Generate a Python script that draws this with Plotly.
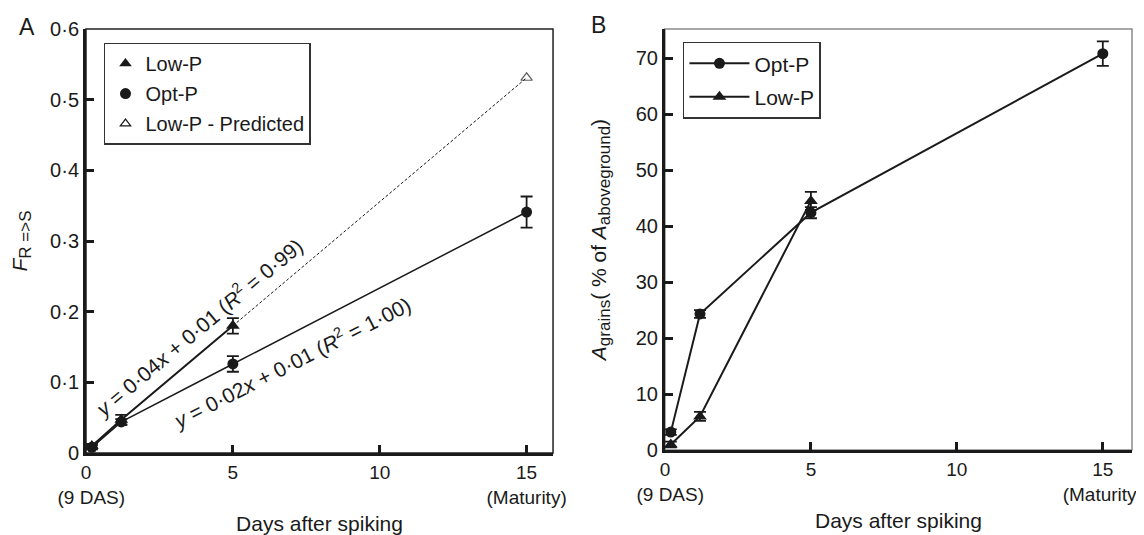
import plotly.graph_objects as go

# ---------------- data ----------------
days_opt = [0.2, 1.2, 5, 15]
days_low = [0.2, 1.2, 5]
days_pred = [5, 15]

# Panel A : F R=>S
A_opt = [0.008, 0.044, 0.126, 0.341]
A_opt_err = [0.003, 0.004, 0.011, 0.022]
A_low = [0.010, 0.047, 0.180]
A_low_err = [0.003, 0.007, 0.011]
A_pred = [0.180, 0.531]

# Panel B : A grains (% of A aboveground)
B_opt = [3.2, 24.3, 42.4, 70.8]
B_opt_err = [0.5, 0.7, 1.0, 2.2]
B_low = [1.0, 6.0, 44.5]
B_low_err = [0.5, 0.8, 1.6]

x_tickvals = [0, 5, 10, 15]
x_ticktext = ["0<br>\u00a0\u00a0(9 DAS)", "5", "10", "15<br>(Maturity)"]
A_tickvals = [0, 0.1, 0.2, 0.3, 0.4, 0.5, 0.6]
A_ticktext = ["0", "0·1", "0·2", "0·3", "0·4", "0·5", "0·6"]
B_tickvals = [0, 10, 20, 30, 40, 50, 60, 70]

FONT = "Liberation Sans, Arial, Helvetica, sans-serif"
BLACK = "#1a1a1a"

fig = go.Figure()

# ---- Panel A traces ----
fig.add_trace(go.Scatter(
    x=days_pred, y=A_pred, mode="lines+markers", xaxis="x", yaxis="y",
    line=dict(color=BLACK, width=1, dash="3px,2px"),
    marker=dict(symbol="triangle-up-open", size=[0, 10], color=BLACK, line=dict(width=1.2, color=BLACK)),
    showlegend=False, hoverinfo="skip"))
fig.add_trace(go.Scatter(
    x=days_opt, y=A_opt, mode="lines+markers", xaxis="x", yaxis="y",
    line=dict(color=BLACK, width=1.5),
    marker=dict(symbol="circle", size=11, color=BLACK),
    error_y=dict(type="data", array=A_opt_err, color=BLACK, thickness=1.8, width=6),
    showlegend=False))
fig.add_trace(go.Scatter(
    x=days_low, y=A_low, mode="lines+markers", xaxis="x", yaxis="y",
    line=dict(color=BLACK, width=2),
    marker=dict(symbol="triangle-up", size=12, color=BLACK),
    error_y=dict(type="data", array=A_low_err, color=BLACK, thickness=1.8, width=6),
    showlegend=False))
# legend entries for panel A (markers only)
fig.add_trace(go.Scatter(x=[None], y=[None], mode="markers", xaxis="x", yaxis="y",
                         name="Low-P", legend="legend", legendgroup="a1",
                         marker=dict(symbol="triangle-up", size=11, color=BLACK)))
fig.add_trace(go.Scatter(x=[None], y=[None], mode="markers", xaxis="x", yaxis="y",
                         name="Opt-P", legend="legend", legendgroup="a2",
                         marker=dict(symbol="circle", size=11, color=BLACK)))
fig.add_trace(go.Scatter(x=[None], y=[None], mode="markers", xaxis="x", yaxis="y",
                         name="Low-P - Predicted", legend="legend", legendgroup="a3",
                         marker=dict(symbol="triangle-up-open", size=9, color=BLACK,
                                     line=dict(width=1.2, color=BLACK))))

# ---- Panel B traces ----
fig.add_trace(go.Scatter(
    x=days_opt, y=B_opt, mode="lines+markers", xaxis="x2", yaxis="y2",
    name="Opt-P", legend="legend2", legendgroup="b1",
    line=dict(color=BLACK, width=2),
    marker=dict(symbol="circle", size=11, color=BLACK),
    error_y=dict(type="data", array=B_opt_err, color=BLACK, thickness=1.8, width=6)))
fig.add_trace(go.Scatter(
    x=days_low, y=B_low, mode="lines+markers", xaxis="x2", yaxis="y2",
    name="Low-P", legend="legend2", legendgroup="b2",
    line=dict(color=BLACK, width=2),
    marker=dict(symbol="triangle-up", size=12, color=BLACK),
    error_y=dict(type="data", array=B_low_err, color=BLACK, thickness=1.8, width=6)))

axis_common = dict(
    showgrid=False, zeroline=False, showline=True, linewidth=3, linecolor=BLACK,
    ticks="inside", ticklen=8, tickwidth=2.5, tickcolor=BLACK,
    automargin=False, ticklabeloverflow="allow",
)
ytickfont = dict(family=FONT, size=20, color=BLACK)
xtickfont = dict(family=FONT, size=19, color=BLACK)

SUB = "<sub><span style='font-size:17px'>{}</span></sub>"

fig.update_layout(
    width=1136, height=527,
    margin=dict(l=78, r=12, t=21, b=82),
    paper_bgcolor="white", plot_bgcolor="white",
    font=dict(family=FONT, size=21, color=BLACK),
    xaxis=dict(domain=[0, 0.4465], range=[0, 15.9], tickvals=x_tickvals, ticktext=x_ticktext,
               tickfont=xtickfont,
               title=dict(text="Days after spiking", font=dict(size=21), standoff=10),
               anchor="y", **axis_common),
    yaxis=dict(domain=[0, 1], range=[0, 0.6], tickvals=A_tickvals, ticktext=A_ticktext,
               tickfont=ytickfont,
               title=dict(text="<i>F</i>" + SUB.format("R =>S"), font=dict(size=21), standoff=20),
               anchor="x", **axis_common),
    xaxis2=dict(domain=[0.5535, 1.0], range=[0, 16], tickvals=x_tickvals, ticktext=x_ticktext,
                tickfont=xtickfont,
                title=dict(text="Days after spiking", font=dict(size=21), standoff=10),
                anchor="y2", **axis_common),
    yaxis2=dict(domain=[0.007, 1], range=[0, 75.2], tickvals=B_tickvals,
                tickfont=ytickfont,
                title=dict(text="<i>A</i>" + SUB.format("grains") + "( % of <i>A</i>"
                                + SUB.format("aboveground") + ")",
                           font=dict(size=21), standoff=24),
                anchor="x2", **axis_common),
    legend=dict(x=0.0172, y=0.968, xanchor="left", yanchor="top",
                bordercolor="#333333", borderwidth=1.5, bgcolor="white",
                font=dict(family=FONT, size=20, color=BLACK),
                traceorder="grouped", tracegroupgap=1, itemwidth=30),
    legend2=dict(x=0.5707, y=0.970, xanchor="left", yanchor="top",
                 bordercolor="#333333", borderwidth=1.5, bgcolor="white",
                 font=dict(family=FONT, size=21, color=BLACK),
                 traceorder="grouped", tracegroupgap=3, itemwidth=60),
    shapes=[
        dict(type="rect", xref="x domain", yref="y domain", x0=0, x1=1, y0=0, y1=1,
             line=dict(color="#222222", width=1.5), layer="below"),
        dict(type="rect", xref="x2 domain", yref="y2 domain", x0=0, x1=1, y0=0, y1=1,
             line=dict(color="#8a8a8a", width=1.5), layer="below"),
    ],
    annotations=[
        dict(text="A", xref="paper", yref="paper", x=-0.0564, y=1.005, xanchor="center", yanchor="middle",
             showarrow=False, font=dict(size=23, color=BLACK)),
        dict(text="B", xref="paper", yref="paper", x=0.4895, y=1.009, xanchor="center", yanchor="middle",
             showarrow=False, font=dict(size=23, color=BLACK)),
        dict(text="<i>y</i> = 0·04<i>x</i> + 0·01 (<i>R</i><sup>2</sup> = 0·99)", xref="x", yref="y",
             x=3.81, y=0.178, xanchor="center", yanchor="middle", textangle=-40,
             showarrow=False, font=dict(size=21, color=BLACK)),
        dict(text="<i>y</i> = 0·02<i>x</i> + 0·01 (<i>R</i><sup>2</sup> = 1·00)", xref="x", yref="y",
             x=6.97, y=0.129, xanchor="center", yanchor="middle", textangle=-27,
             showarrow=False, font=dict(size=21, color=BLACK)),
    ],
)

fig.write_html("out.html")
